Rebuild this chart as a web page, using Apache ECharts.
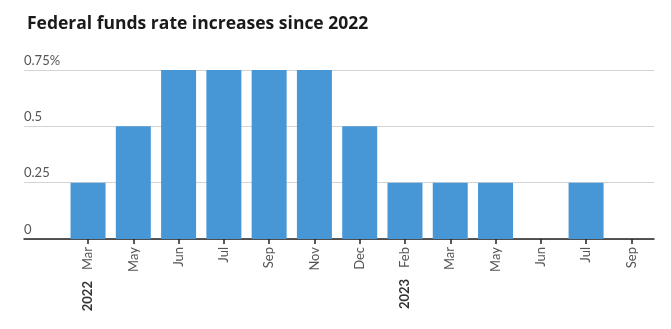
<!DOCTYPE html>
<html>
<head>
<meta charset="utf-8">
<script src="https://cdn.jsdelivr.net/npm/echarts@6/dist/echarts.min.js"></script>
<style>
  html, body { margin: 0; padding: 0; background: #fff; }
  #chart { width: 671px; height: 329px; }
</style>
</head>
<body>
<div id="chart"></div>
<script>
// Size of each Fed rate increase, by FOMC meeting month
const months = ['Mar', 'May', 'Jun', 'Jul', 'Sep', 'Nov', 'Dec', 'Feb', 'Mar', 'May', 'Jun', 'Jul', 'Sep'];
const years  = ['2022', '', '', '', '', '', '', '2023', '', '', '', '', ''];
const increases = [0.25, 0.5, 0.75, 0.75, 0.75, 0.75, 0.5, 0.25, 0.25, 0.25, 0, 0.25, 0];
const yTicks = [0, 0.25, 0.5, 0.75];

const categories = months.map((m, i) => i);
const FONT = 'Lato';

const chart = echarts.init(document.getElementById('chart'), null, { renderer: 'canvas' });

chart.setOption({
  animation: false,
  title: {
    text: 'Federal funds rate increases since 2022',
    left: 22,
    top: 10,
    textStyle: { fontFamily: 'Open Sans', fontWeight: 'bold', fontSize: 17.5, color: '#1a1a1a' }
  },
  grid: [
    // background grid: gridlines, y labels and baseline across the full width
    { left: 24, right: 17, top: 70, bottom: 90 },
    // bar grid
    { left: 65.4, right: 17, top: 70, bottom: 90 }
  ],
  xAxis: [
    {
      gridIndex: 0, type: 'value', min: 0, max: 1,
      axisLine: { show: true, onZero: false, lineStyle: { color: '#222', width: 1.5 } },
      axisTick: { show: false }, axisLabel: { show: false }, splitLine: { show: false }
    },
    {
      gridIndex: 1, type: 'category', data: categories,
      axisLine: { show: false },
      axisTick: { show: true, alignWithLabel: true, length: 5, lineStyle: { color: '#222', width: 1.5 } },
      axisLabel: {
        rotate: 90, margin: 8, fontFamily: FONT, fontSize: 13, color: '#555',
        formatter: (v) => {
          const i = +v;
          return years[i] ? '{yr|' + years[i] + '}{gap|}{m|' + months[i] + '}' : '{m|' + months[i] + '}';
        },
        rich: {
          m: { fontFamily: FONT, fontSize: 13, color: '#555' },
          gap: { width: 11 },
          yr: { fontFamily: FONT, fontSize: 13, fontWeight: 'bold', color: '#333' }
        }
      }
    }
  ],
  yAxis: [
    {
      gridIndex: 0, type: 'value', min: 0, max: 0.75, interval: 0.25,
      axisLine: { show: false }, axisTick: { show: false },
      splitLine: { show: true, lineStyle: { color: '#d4d4d4', width: 1 } },
      axisLabel: {
        align: 'left', verticalAlign: 'bottom', margin: 0, padding: [0, 0, 3, 0],
        fontFamily: FONT, fontSize: 13, color: '#555',
        formatter: (v) => {
          const t = yTicks.find(x => Math.abs(x - v) < 1e-9);
          if (t === undefined) return '';
          return t === 0.75 ? '0.75%' : String(t);
        }
      }
    },
    {
      gridIndex: 1, type: 'value', min: 0, max: 0.75, interval: 0.25,
      show: false
    }
  ],
  series: [
    {
      type: 'bar', xAxisIndex: 1, yAxisIndex: 1,
      data: increases, barWidth: 35,
      itemStyle: { color: '#4797d7' }
    }
  ]
});
</script>
</body>
</html>
